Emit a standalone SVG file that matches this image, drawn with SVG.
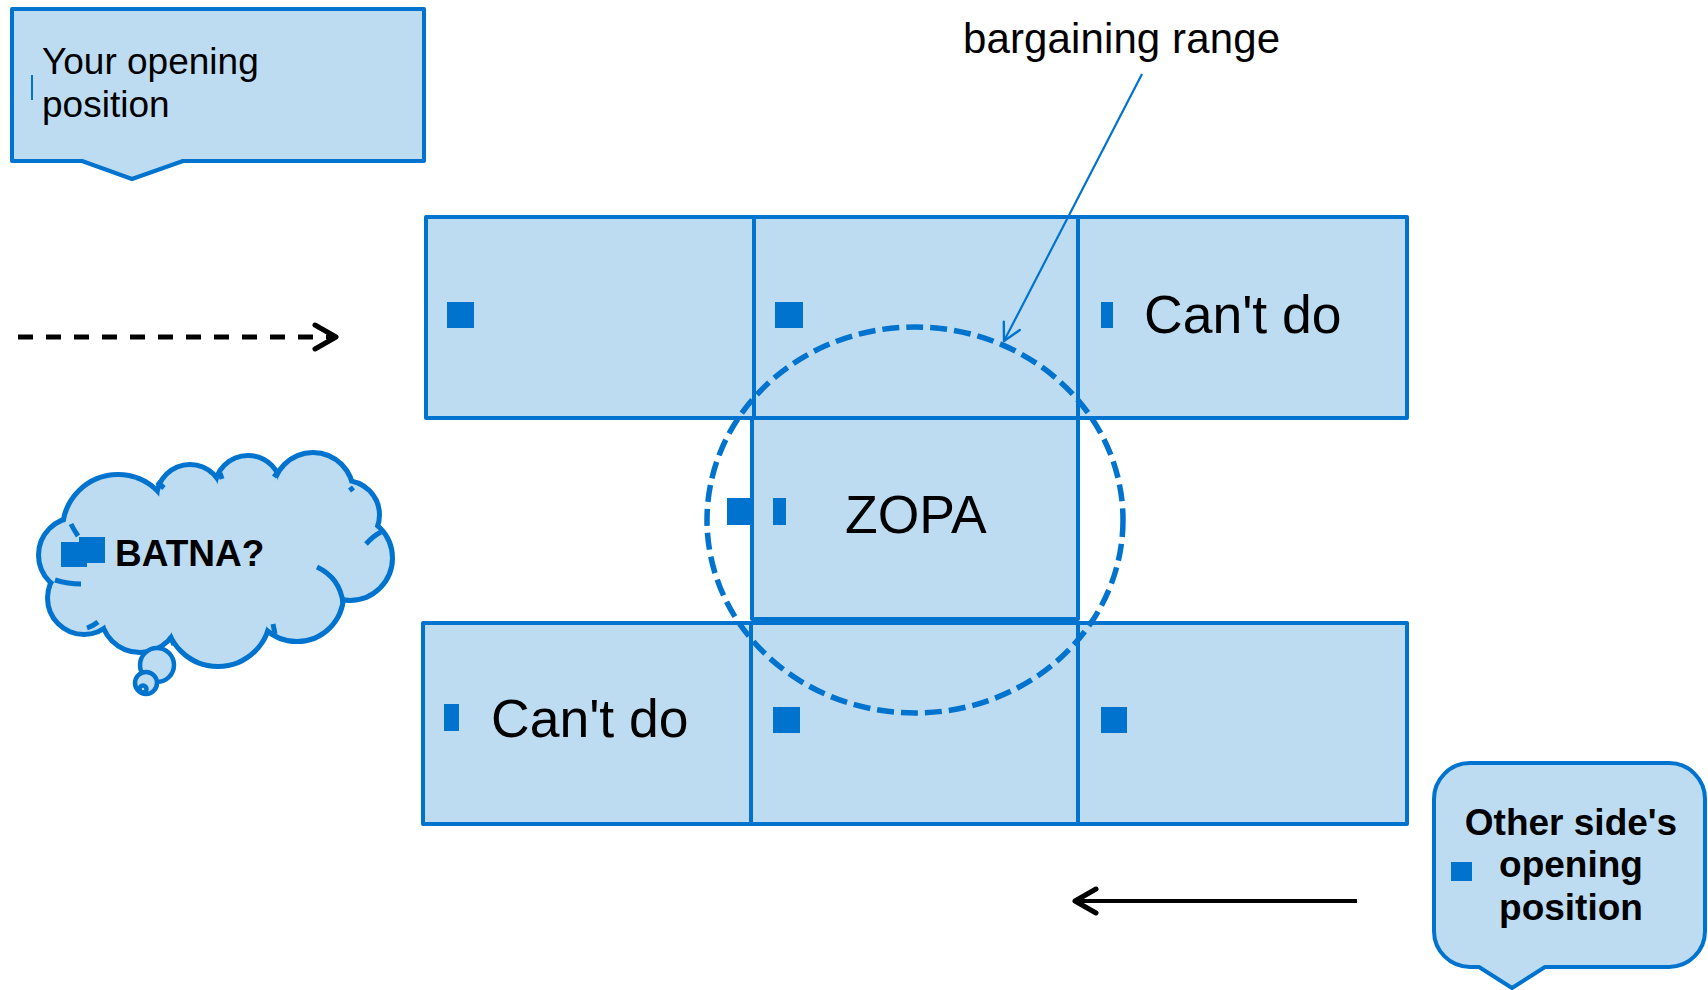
<svg xmlns="http://www.w3.org/2000/svg" width="1708" height="990" viewBox="0 0 1708 990">
<defs>
<style>
.box{fill:#BEDCF1;stroke:#0073CF;stroke-width:4;stroke-linejoin:round}
.bul{fill:#0073CF}
.t{font-family:"Liberation Sans",Arial,sans-serif;fill:#000}
.big{font-size:53.5px}
.mid{font-size:37px}
.bold{font-weight:bold}
.cs{fill:none;stroke:#0073CF;stroke-width:10}
.cf{fill:#BEDCF1;stroke:none}
.notch{fill:none;stroke:#0073CF;stroke-width:5;stroke-linecap:butt}
.bub{fill:#BEDCF1;stroke:#0073CF;stroke-width:4.5}
</style>
<marker id="chevK" markerUnits="userSpaceOnUse" markerWidth="40" markerHeight="40" viewBox="-30 -20 40 40" refX="0" refY="0" orient="auto" overflow="visible">
<path d="M-21 -12 L0 0 L-21 12" fill="none" stroke="#000" stroke-width="5" stroke-linecap="round" stroke-linejoin="round"/>
</marker>
<marker id="chevB" markerUnits="userSpaceOnUse" markerWidth="40" markerHeight="40" viewBox="-30 -20 40 40" refX="0" refY="0" orient="auto" overflow="visible">
<path d="M-17 -9 L0 0 L-17 9" fill="none" stroke="#0073CF" stroke-width="2.4" stroke-linecap="round" stroke-linejoin="round"/>
</marker>
</defs>
<rect width="1708" height="990" fill="#fff"/>

<g id="callout-yours">
<path class="box" d="M12 9 H424 V161 H183 L132 179 L82 161 H12 Z"/>
<rect x="31" y="75" width="2" height="25" class="bul"/>
<text class="t mid" x="42" y="74">Your opening</text>
<text class="t mid" x="42" y="117">position</text>
</g>

<g id="cloud-batna">
<g class="cs">
<circle cx="76" cy="555" r="35"/>
<circle cx="84" cy="598" r="34"/>
<circle cx="140" cy="613" r="37"/>
<circle cx="218" cy="614" r="50"/>
<circle cx="297" cy="595" r="44"/>
<circle cx="350" cy="558" r="40"/>
<circle cx="345" cy="515" r="32"/>
<circle cx="313" cy="493" r="38"/>
<circle cx="248" cy="489" r="31"/>
<circle cx="190" cy="498" r="31"/>
<circle cx="118" cy="530" r="53"/>
</g>
<g class="cf">
<circle cx="76" cy="555" r="35"/>
<circle cx="84" cy="598" r="34"/>
<circle cx="140" cy="613" r="37"/>
<circle cx="218" cy="614" r="50"/>
<circle cx="297" cy="595" r="44"/>
<circle cx="350" cy="558" r="40"/>
<circle cx="345" cy="515" r="32"/>
<circle cx="313" cy="493" r="38"/>
<circle cx="248" cy="489" r="31"/>
<circle cx="190" cy="498" r="31"/>
<circle cx="118" cy="530" r="53"/>
<ellipse cx="220" cy="560" rx="140" ry="70"/>
</g>
<path class="notch" d="M317 567 Q340 578 343 603"/>
<path class="notch" d="M366 544 Q373 536 381 532"/>
<path class="notch" d="M71 524 Q74 530 78 536"/>
<path class="notch" d="M55 580 Q68 584 81 584"/>
<path class="notch" d="M98 622 Q93 626 87 628"/>
<path class="notch" d="M170 636 L174 645"/>
<path class="notch" d="M273 624 L275 634"/>
<path class="notch" d="M164 488 L157 482"/>
<path class="notch" d="M220 473 L222 479"/>
<path class="notch" d="M277 473 L274 477"/>
<path class="notch" d="M350 487 L353 491"/>
<circle class="bub" cx="157" cy="665" r="17"/>
<circle class="bub" cx="146" cy="683" r="11"/>
<circle class="bub" cx="143" cy="689" r="3.5"/>
<rect x="61" y="542" width="26" height="25" class="bul"/>
<rect x="79" y="537" width="26" height="26" class="bul"/>
<text class="t bold" font-size="37" x="115" y="566">BATNA?</text>
</g>

<g id="cell-top-left">
<rect class="box" x="426" y="217" width="328" height="201"/>
<rect x="447" y="302" width="27" height="26" class="bul"/>
</g>
<g id="cell-top-mid">
<rect class="box" x="754" y="217" width="324" height="201"/>
<rect x="775" y="302" width="28" height="26" class="bul"/>
</g>
<g id="cell-top-right">
<rect class="box" x="1078" y="217" width="329" height="201"/>
<rect x="1101" y="302" width="12" height="26" class="bul"/>
<text class="t big" x="1144" y="333">Can't do</text>
</g>
<g id="cell-zopa">
<rect class="box" x="752" y="418" width="326" height="201"/>
<rect x="773" y="498" width="13" height="27" class="bul"/>
<text class="t big" font-size="54" x="845" y="533">ZOPA</text>
</g>
<g id="cell-bottom-left">
<rect class="box" x="423" y="623" width="328" height="201"/>
<rect x="444" y="704" width="15" height="27" class="bul"/>
<text class="t big" x="491" y="737">Can't do</text>
</g>
<g id="cell-bottom-mid">
<rect class="box" x="751" y="623" width="327" height="201"/>
<rect x="773" y="707" width="27" height="26" class="bul"/>
</g>
<g id="cell-bottom-right">
<rect class="box" x="1078" y="623" width="329" height="201"/>
<rect x="1101" y="707" width="26" height="26" class="bul"/>
</g>

<g id="zopa-marker">
<rect x="727" y="498" width="25" height="27" class="bul"/>
</g>

<g id="bargaining-range">
<ellipse cx="915" cy="520" rx="208" ry="193" fill="none" stroke="#0073CF" stroke-width="5.5" stroke-dasharray="17 7"/>
<text class="t" font-size="42" x="963" y="53" textLength="317" lengthAdjust="spacing">bargaining range</text>
</g>

<g id="callout-other">
<path class="box" d="M1470 763 H1669 A36 36 0 0 1 1705 799 V931 A36 36 0 0 1 1669 967 H1545 L1512 988 L1479 967 H1470 A36 36 0 0 1 1434 931 V799 A36 36 0 0 1 1470 763 Z"/>
<rect x="1451" y="862" width="21" height="19" class="bul"/>
<text class="t mid bold" x="1571" y="835" text-anchor="middle">Other side's</text>
<text class="t mid bold" x="1571" y="877" text-anchor="middle">opening</text>
<text class="t mid bold" x="1571" y="920" text-anchor="middle">position</text>
</g>

<g id="connectors">
<line x1="18" y1="337" x2="336" y2="337" stroke="#000" stroke-width="5" stroke-dasharray="15 13" marker-end="url(#chevK)"/>
<line x1="1357" y1="901" x2="1075" y2="901" stroke="#000" stroke-width="4" marker-end="url(#chevK)"/>
<line x1="1142" y1="74" x2="1004" y2="341" stroke="#0073CF" stroke-width="2.2" marker-end="url(#chevB)"/>
</g>
</svg>
